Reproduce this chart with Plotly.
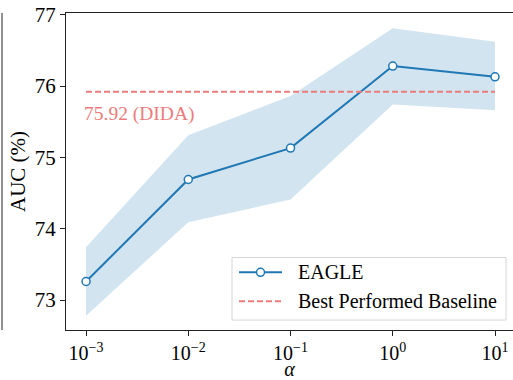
import numpy as np
import plotly.graph_objects as go

alpha = [1e-3, 1e-2, 1e-1, 1e0, 1e1]
auc = [73.26, 74.69, 75.13, 76.28, 76.13]
auc_upper = [73.74, 75.31, 75.86, 76.81, 76.62]
auc_lower = [72.78, 74.09, 74.41, 75.74, 75.66]
baseline_value = 75.92
baseline_label = "75.92 (DIDA)"
series_names = ["EAGLE", "Best Performed Baseline"]
tick_vals = [1e-3, 1e-2, 1e-1, 1e0, 1e1]
tick_text = ["10<sup>−3</sup>", "10<sup>−2</sup>", "10<sup>−1</sup>", "10<sup>0</sup>", "10<sup>1</sup>"]

blue = "#1f77b4"
coral = "#ec7c7c"
font_family = "Liberation Serif, Times New Roman, serif"

fig = go.Figure()
fig.add_trace(go.Scatter(x=alpha + alpha[::-1], y=auc_upper + auc_lower[::-1],
                         mode="lines", fill="toself", fillcolor="rgba(31,119,180,0.2)",
                         line=dict(width=0), hoverinfo="skip", showlegend=False))
fig.add_trace(go.Scatter(x=alpha, y=auc, mode="lines+markers", name=series_names[0],
                         line=dict(color=blue, width=2), showlegend=False,
                         marker=dict(symbol="circle", size=8, color="white",
                                     line=dict(color=blue, width=1.5))))
fig.add_trace(go.Scatter(x=[alpha[0], alpha[-1]], y=[baseline_value, baseline_value],
                         mode="lines", name=series_names[1], showlegend=False,
                         line=dict(color=coral, width=2, dash="6px,3px")))

fig.add_annotation(x=np.log10(alpha[0]), y=baseline_value, text=baseline_label,
                   xanchor="left", yanchor="middle", yshift=-22, xshift=-4,
                   showarrow=False, font=dict(color=coral, size=19.5, family=font_family))

# right spine of neighbouring panel (cropped)
fig.add_shape(type="line", xref="paper", yref="paper", x0=-64/447, x1=-64/447, y0=0, y1=1,
              line=dict(color="#222", width=1))

# custom legend (matplotlib-style)
PW, PH, L, B = 447.0, 319.0, 66.0, 332.0
px = lambda v: (v - L) / PW
py = lambda v: (B - v) / PH
fig.add_shape(type="rect", xref="paper", yref="paper", layer="above",
              x0=px(232), x1=px(506), y0=py(322), y1=py(259),
              fillcolor="rgba(255,255,255,0.85)", line=dict(color="#d6d6d6", width=1))
fig.add_shape(type="line", xref="paper", yref="paper", layer="above",
              x0=px(239), x1=px(282), y0=py(274), y1=py(274),
              line=dict(color=blue, width=2))
fig.add_shape(type="circle", xref="paper", yref="paper", layer="above",
              xsizemode="pixel", ysizemode="pixel", xanchor=px(260.5), yanchor=py(274),
              x0=-4, x1=4, y0=-4, y1=4, fillcolor="white", line=dict(color=blue, width=1.5))
fig.add_shape(type="line", xref="paper", yref="paper", layer="above",
              x0=px(239), x1=px(282), y0=py(303), y1=py(303),
              line=dict(color=coral, width=2, dash="6px,3px"))
for name, yy in zip(series_names, [274, 303]):
    fig.add_annotation(xref="paper", yref="paper", x=px(296), y=py(yy), text=name,
                       xanchor="left", yanchor="middle", showarrow=False,
                       font=dict(size=20, family=font_family, color="black"))

fig.update_layout(
    width=513, height=380,
    margin=dict(l=66, r=0, t=13, b=48),
    paper_bgcolor="white", plot_bgcolor="white",
    font=dict(family=font_family, size=20, color="black"),
    showlegend=False,
)
fig.update_xaxes(type="log", range=[-3.196, 1.176], tickvals=tick_vals, ticktext=tick_text,
                 showgrid=False, zeroline=False, showline=True, linecolor="#222", linewidth=1,
                 mirror=True, ticks="outside", ticklen=5, tickcolor="#222",
                 tickfont=dict(size=20),
                 title=dict(text="<i>α</i>", font=dict(size=20), standoff=2))
fig.update_yaxes(range=[72.58, 77.024], tickvals=[73, 74, 75, 76, 77],
                 showgrid=False, zeroline=False, showline=True, linecolor="#222", linewidth=1,
                 ticks="outside", ticklen=5, tickcolor="#222", tickfont=dict(size=21),
                 title=dict(text="AUC (%)", font=dict(size=21), standoff=3))

fig.write_html("out.html")
